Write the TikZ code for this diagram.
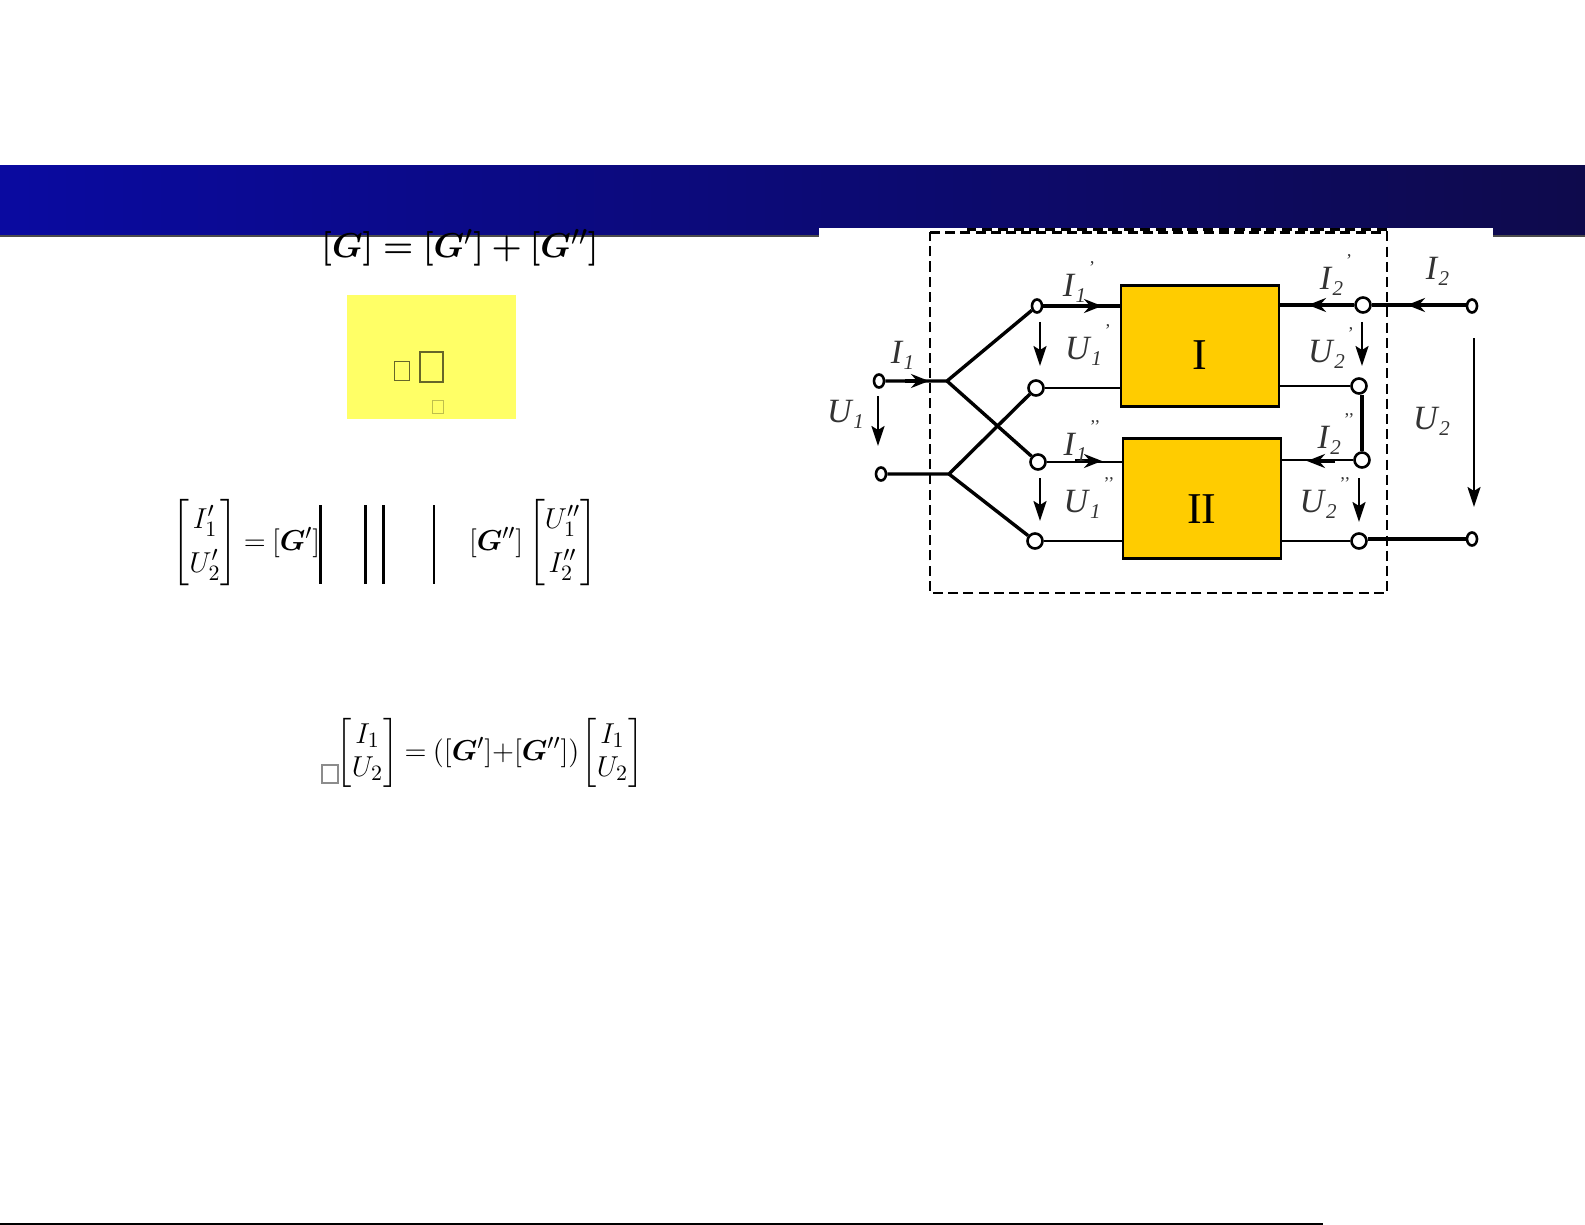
\documentclass[tikz,border=0pt]{standalone}
\usepackage{amsmath,bm}
\usepackage{fontspec}
\setmainfont{Liberation Serif}
\usetikzlibrary{arrows.meta,shapes.geometric}
\definecolor{boxgold}{RGB}{255,204,0}
\definecolor{notepad}{RGB}{255,255,102}
\definecolor{bannerl}{RGB}{10,10,160}
\definecolor{bannerr}{RGB}{14,10,76}
\newcommand{\portlab}[3]{\fontsize{17}{20}\selectfont\textit{#1}\raisebox{-.35ex}{\fontsize{10.5}{12}\selectfont\textit{#2}}\raisebox{1.5ex}{\fontsize{9}{10}\selectfont\,#3}}
\begin{document}
\begin{tikzpicture}[x=0.5pt,y=-0.5pt,
  term/.style={circle,draw,fill=white,line width=1.3pt,minimum size=7.5pt,inner sep=0pt},
  smallterm/.style={ellipse,draw,fill=white,line width=1.3pt,minimum width=5pt,minimum height=6.5pt,inner sep=0pt},
  twoport/.style={draw,fill=boxgold,line width=1.3pt,anchor=north west,inner sep=0pt,font=\fontsize{22}{24}\selectfont},
  portlabel/.style={text=black!80,inner sep=0pt},
  heavy/.style={line width=1.7pt},
  light/.style={line width=1.1pt},
  flow/.style={line width=1.7pt,-{Stealth[length=9pt,width=7pt,inset=3pt]}},
  volt/.style={line width=1.2pt,-{Stealth[length=10pt,width=6.5pt,inset=2pt]}},
  frame/.style={line width=1.4pt,dash pattern=on 5pt off 2.6pt},
  tofu/.style={draw=black!60!notepad,line width=.7pt,inner sep=0pt},
  formula/.style={inner sep=0pt,font=\fontsize{15.5}{18}\selectfont}]
\useasboundingbox (0,0) rectangle (1585,1225);

% title bar and the white patch of the figure
\shade[left color=bannerl,right color=bannerr] (0,166) rectangle (1585,236);
\draw[black!70,line width=.6pt] (0,236) -- (1585,236);
\fill[white] (819,228) rectangle (1493,600);

% left side
\node[formula,font=\fontsize{19}{22}\selectfont] (eqsum) at (460,248) {$\bm{[}\bm{G}\bm{]}\bm{=}\bm{[}\bm{G}'\bm{]}\bm{+}\bm{[}\bm{G}''\bm{]}$};
\node[fill=notepad,anchor=north west,inner sep=0pt,minimum width=84.5pt,minimum height=62pt] (note) at (347,295) {};
\node[tofu,minimum width=7.7pt,minimum height=9.7pt] (tofua) at (402,371) {};
\node[tofu,line width=.9pt,minimum width=11.3pt,minimum height=14.7pt] (tofub) at (431.6,367) {};
\node[tofu,draw=black!25!notepad,minimum width=5.7pt,minimum height=6.7pt] (tofuc) at (438,407) {};

\node[formula] (eqleft) at (246.5,543) {$\begin{bmatrix}I_1'\\[4pt]U_2'\end{bmatrix}\mskip-1mu=\mskip-1mu[\bm{G}']$};
\node[formula] (eqright) at (533,543) {$[\bm{G}'']\begin{bmatrix}U_1''\\[4pt]I_2''\end{bmatrix}$};
\draw[line width=1.5pt] (320.5,505) -- (320.5,584);
\draw[line width=1.5pt] (365.7,505) -- (365.7,584);
\draw[line width=1.5pt] (383.5,505) -- (383.5,584);
\draw[line width=1pt] (434,505) -- (434,584);

\node[tofu,draw=black!45,minimum width=8pt,minimum height=9pt] (tofud) at (330,774) {};
\node[formula] (eqtotal) at (490,753) {$\renewcommand{\arraystretch}{.92}\begin{bmatrix}I_1\\U_2\end{bmatrix}\mskip-1mu=\mskip-1mu([\bm{G}']{+}[\bm{G}''])\mskip-1.5mu\begin{bmatrix}I_1\\U_2\end{bmatrix}$};

% figure
\draw[frame] (930,232.5) -- (1387,232.5) -- (1387,593) -- (930,593) -- cycle;
\draw[frame,dash pattern=on 5pt off 2.9pt] (1387,229.5) -- (967,229.5);

\node[twoport,minimum width=79pt,minimum height=60.5pt] (one) at (1119.5,284) {\raisebox{-12pt}[0pt][0pt]{I}};
\node[twoport,minimum width=79pt,minimum height=60pt] (two) at (1121.5,437) {\raisebox{-12.5pt}[0pt][0pt]{II}};

\node[smallterm] (inp) at (879,381) {};
\node[smallterm] (inn) at (881,474) {};
\coordinate (jp) at (947,381);
\coordinate (jn) at (949,474);
\node[smallterm] (a) at (1037,306) {};
\node[term] (b) at (1036,388) {};
\node[term] (c) at (1038,462) {};
\node[term] (d) at (1035,541) {};
\node[term] (e) at (1363,305) {};
\node[term] (f) at (1359,386) {};
\node[term] (g) at (1362,460) {};
\node[term] (h) at (1359,541) {};
\node[smallterm] (outp) at (1472,306) {};
\node[smallterm] (outn) at (1472,539) {};

\draw[heavy] (inp) -- (jp) -- (a);
\draw[heavy] (jp) -- (c);
\draw[heavy] (inn) -- (jn) -- (b);
\draw[heavy] (jn) -- (d);
\draw[heavy] (a) -- (a -| one.west);
\draw[light] (b) -- (b -| one.west);
\draw[light] (c) -- (c -| two.west);
\draw[light] (d) -- (d -| two.west);
\draw[heavy] (e) -- (e -| one.east);
\draw[light] (f) -- (f -| one.east);
\draw[light] (g) -- (g -| two.east);
\draw[light] (h) -- (h -| two.east);
\draw[heavy] (g) -- (g |- f.south);
\draw[heavy] (e) -- (e -| outp.west);
\draw[heavy] (outn) -- (outn -| h.east);

% current arrows
\coordinate (t1) at (929,381);
\coordinate (t2) at (1102,306);
\coordinate (t3) at (1102,461);
\coordinate (t4) at (1308,305);
\coordinate (t5) at (1407,305);
\coordinate (t6) at (1307,461);
\draw[flow] (905,381) -- (t1);
\draw[flow] (1075,306) -- (t2);
\draw[flow] (1075,461) -- (t3);
\draw[flow] (1335,305) -- (t4);
\draw[flow] (1435,305) -- (t5);
\draw[flow] (1335,461) -- (t6);

% voltage arrows
\coordinate (v1a) at (878,396); \coordinate (v1b) at (878,446);
\coordinate (v2a) at (1040,322); \coordinate (v2b) at (1040,366);
\coordinate (v3a) at (1040,478); \coordinate (v3b) at (1040,521);
\coordinate (v4a) at (1362,322); \coordinate (v4b) at (1362,366);
\coordinate (v5a) at (1359,478); \coordinate (v5b) at (1359,522);
\coordinate (v6a) at (1474,338); \coordinate (v6b) at (1474,507);
\draw[volt] (v1a) -- (v1b);
\draw[volt] (v2a) -- (v2b);
\draw[volt] (v3a) -- (v3b);
\draw[volt] (v4a) -- (v4b);
\draw[volt] (v5a) -- (v5b);
\draw[volt] (v6a) -- (v6b);

% labels
\node[portlabel] (li1) at (904,355) {\portlab{I}{1}{}};
\node[portlabel] (lu1) at (847,414) {\portlab{U}{1}{}};
\node[portlabel] (li1a) at (1079,282) {\portlab{I}{1}{'}};
\node[portlabel] (lu1a) at (1088,345) {\portlab{U}{1}{'}};
\node[portlabel] (li1b) at (1082,441) {\portlab{I}{1}{'{}'}};
\node[portlabel] (lu1b) at (1089,498) {\portlab{U}{1}{'{}'}};
\node[portlabel] (li2a) at (1336,275) {\portlab{I}{2}{'}};
\node[portlabel] (li2) at (1439,271) {\portlab{I}{2}{}};
\node[portlabel] (lu2a) at (1331,348) {\portlab{U}{2}{'}};
\node[portlabel] (lu2) at (1433,421) {\portlab{U}{2}{}};
\node[portlabel] (li2b) at (1336,434) {\portlab{I}{2}{'{}'}};
\node[portlabel] (lu2b) at (1325,498) {\portlab{U}{2}{'{}'}};

% bottom rule
\draw[line width=1pt] (0,1224) -- (1323,1224);
\end{tikzpicture}
\end{document}
